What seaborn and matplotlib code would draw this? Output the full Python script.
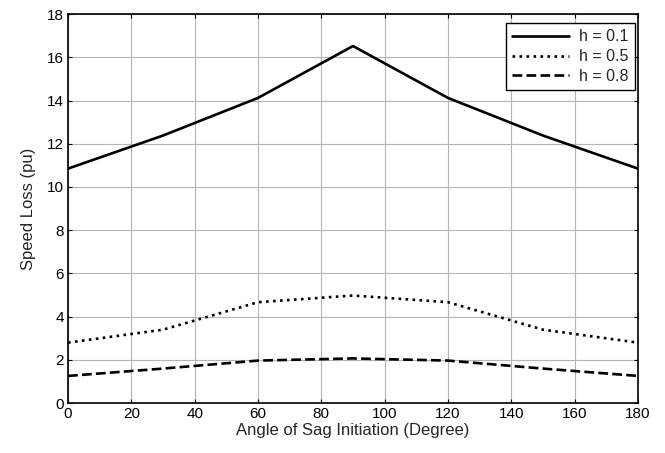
import matplotlib
matplotlib.use("Agg")
import matplotlib.pyplot as plt
import seaborn as sns
import pandas as pd

angles = [0, 30, 60, 90, 120, 150, 180]
loss_h01 = [10.85, 12.38, 14.12, 16.52, 14.12, 12.38, 10.85]
loss_h05 = [2.80, 3.40, 4.67, 4.98, 4.67, 3.40, 2.80]
loss_h08 = [1.26, 1.60, 1.97, 2.07, 1.97, 1.60, 1.26]
labels = ["h = 0.1", "h = 0.5", "h = 0.8"]
xticks = list(range(0, 181, 20))
yticks = list(range(0, 19, 2))

sns.set_style("white")
plt.rcParams['font.family'] = ['Liberation Sans', 'DejaVu Sans']

fig = plt.figure(figsize=(6.65, 4.53), dpi=100)
ax = fig.add_axes([0.1023, 0.110, 0.857, 0.859])

series = [loss_h01, loss_h05, loss_h08]
styles = ['-', ':', '--']
for vals, lab, ls in zip(series, labels, styles):
    df = pd.DataFrame({"angle": angles, "loss": vals})
    sns.lineplot(data=df, x="angle", y="loss", ax=ax, color='black',
                 linestyle=ls, linewidth=1.9, label=lab)

ax.set_xlim(0, 180)
ax.set_ylim(0, 18)
ax.set_xticks(xticks)
ax.set_yticks(yticks)
ax.grid(True, color='#b5b5b5', linewidth=0.8, linestyle='-')
ax.set_axisbelow(True)
for s in ax.spines.values():
    s.set_color('black')
    s.set_linewidth(1.2)
ax.tick_params(direction='in', length=3, width=0.8, top=True, right=True,
               bottom=True, left=True, labelsize=11, colors='black', pad=3)
ax.set_xlabel("Angle of Sag Initiation (Degree)", fontsize=12, labelpad=1)
ax.set_ylabel("Speed Loss (pu)", fontsize=12, labelpad=8)

leg = ax.legend(loc='upper right', bbox_to_anchor=(1 - 3 / 570, 1 - 9 / 389),
                fontsize=11.5, frameon=True, fancybox=False,
                edgecolor='black', framealpha=1, borderaxespad=0,
                handlelength=3.6, labelspacing=0.3, borderpad=0.4,
                handletextpad=0.6)
leg.get_frame().set_linewidth(1.0)

fig.savefig("out.png", dpi=100)
